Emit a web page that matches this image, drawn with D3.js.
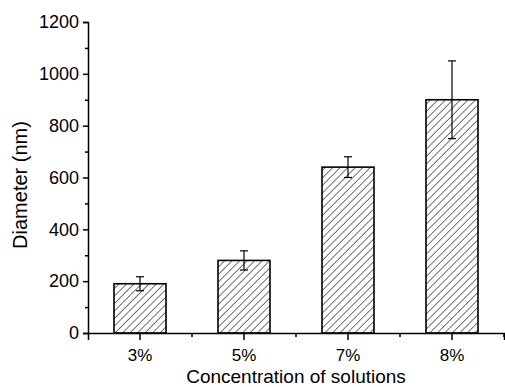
<!DOCTYPE html>
<html>
<head>
<meta charset="utf-8">
<script src="https://cdn.jsdelivr.net/npm/d3@7"></script>
<style>
body { margin: 0; background: #fff; }
svg text { font-family: "Liberation Sans", Arial, sans-serif; fill: #000; }
</style>
</head>
<body>
<div id="chart-area"></div>
<script>
// data
var categories = ["3%", "5%", "7%", "8%"];
var diameters = [190, 280, 640, 900];
var errors = [27, 37, 40, 150];
var yTicks = [0, 200, 400, 600, 800, 1000, 1200];
var yMinor = [100, 300, 500, 700, 900, 1100];

var margin = {left:88, right:1, top:22, bottom:54};
var width = 505 - margin.left - margin.right,
	height = 387 - margin.top - margin.bottom;

var svg = d3.select("#chart-area")
	.append("svg")
		.attr("width", 505)
		.attr("height", 387);

// hatch pattern
svg.append("defs").append("pattern")
	.attr("id", "hatch")
	.attr("patternUnits", "userSpaceOnUse")
	.attr("width", 5.3)
	.attr("height", 5.3)
	.attr("patternTransform", "rotate(45)")
	.append("line")
		.attr("x1", 0).attr("y1", 0)
		.attr("x2", 0).attr("y2", 5.3)
		.attr("stroke", "#000")
		.attr("stroke-width", 1.1);

var canvas = svg.append("g")
	.attr("transform", "translate(" + margin.left + ", " + margin.top + ")");

//scales
var x = d3.scaleBand()
	.domain(categories)
	.range([0, width])
	.paddingInner(0.5)
	.paddingOuter(0.25);

var y = d3.scaleLinear()
	.domain([0, 1200])
	.range([height, 0]);

//bars
canvas.selectAll("rect.bar")
	.data(diameters)
	.enter().append("rect")
		.attr("class", "bar")
		.attr("x", function(d, i){ return x(categories[i]); })
		.attr("y", function(d){ return y(d); })
		.attr("width", x.bandwidth())
		.attr("height", function(d){ return height - y(d); })
		.attr("fill", "url(#hatch)")
		.attr("stroke", "#000")
		.attr("stroke-width", 1.6);

//error bars
var err = canvas.selectAll("g.err")
	.data(diameters)
	.enter().append("g")
		.attr("class", "err")
		.attr("transform", function(d, i){
			return "translate(" + (x(categories[i]) + x.bandwidth()/2) + ",0)";
		});

err.append("line")
	.attr("y1", function(d, i){ return y(d + errors[i]); })
	.attr("y2", function(d, i){ return y(d - errors[i]); })
	.attr("stroke", "#000").attr("stroke-width", 1.2);

err.selectAll("line.cap")
	.data(function(d, i){ return [d + errors[i], d - errors[i]]; })
	.enter().append("line")
		.attr("class", "cap")
		.attr("x1", -4).attr("x2", 4)
		.attr("y1", function(v){ return y(v); })
		.attr("y2", function(v){ return y(v); })
		.attr("stroke", "#000").attr("stroke-width", 1.2);

//y axis
var yAxisCall = d3.axisLeft(y)
	.tickValues(yTicks)
	.tickSize(5)
	.tickPadding(4)
	.tickFormat(function(d){ return d; });

var yAxis = canvas.append("g")
	.attr("class", "y axis")
	.call(yAxisCall);
yAxis.selectAll("text").attr("font-size", 18).attr("font-family", null);

canvas.append("g")
	.call(d3.axisLeft(y).tickValues(yMinor).tickSize(3).tickFormat(""))
	.select(".domain").remove();

//x axis
var xAxisCall = d3.axisBottom(x)
	.tickSize(7)
	.tickPadding(9);

var xAxis = canvas.append("g")
	.attr("class", "x axis")
	.attr("transform", "translate(0, " + height + ")")
	.call(xAxisCall);
xAxis.selectAll("text").attr("font-size", 17).attr("font-family", null);

// minor ticks at band edges
var step = x.step();
var xMinor = categories.map(function(c){ return x(c) + x.bandwidth()/2 + step/2; });
canvas.append("g")
	.attr("transform", "translate(0, " + height + ")")
	.selectAll("line")
	.data(xMinor)
	.enter().append("line")
		.attr("x1", function(d){ return d; })
		.attr("x2", function(d){ return d; })
		.attr("y1", 0).attr("y2", 4)
		.attr("stroke", "#000").attr("stroke-width", 1.5);

canvas.selectAll(".domain").attr("stroke-width", 1.5);
canvas.selectAll(".tick line").attr("stroke-width", 1.5);

//labels
canvas.append("text")
	.attr("x", width/2)
	.attr("y", height + 50)
	.attr("font-size", 19)
	.attr("text-anchor", "middle")
	.text("Concentration of solutions");

canvas.append("text")
	.attr("transform", "rotate(-90)")
	.attr("x", -(185 - margin.top))
	.attr("y", -61)
	.attr("font-size", 20)
	.attr("text-anchor", "middle")
	.text("Diameter (nm)");
</script>
</body>
</html>
